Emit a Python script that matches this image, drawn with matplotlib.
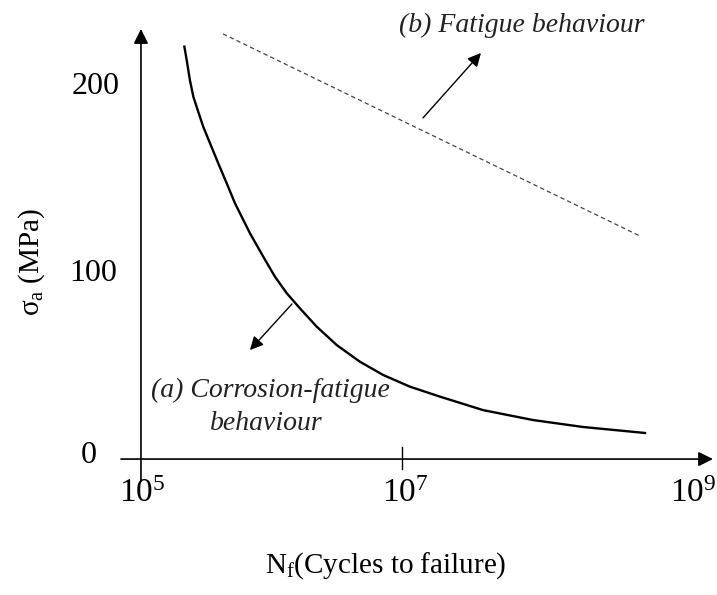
import math
import matplotlib
matplotlib.use("Agg")
import matplotlib.pyplot as plt
from matplotlib.transforms import blended_transform_factory

# S-N sketch: corrosion-fatigue curve vs. fatigue line
# corrosion-fatigue curve (a)
cf_cycles = [2.15e5, 2.24e5, 2.37e5, 2.52e5, 2.72e5, 3.00e5, 3.38e5, 3.91e5,
             4.54e5, 5.25e5, 6.84e5, 8.65e5, 1.064e6, 1.31e6, 1.65e6, 2.22e6,
             3.16e6, 4.76e6, 7.19e6, 1.15e7, 1.95e7, 4.18e7, 1.01e8, 2.44e8, 7.28e8]
cf_stress = [219.9, 212.8, 202.1, 193.2, 186.1, 177.2, 168.4, 157.7,
             147.0, 136.4, 120.4, 107.9, 97.2, 88.4, 80.4, 70.6,
             60.8, 51.9, 44.8, 38.6, 33.3, 26.1, 20.8, 17.1, 13.9]

# fatigue line (b)
fat_cycles = [4.25e5, 6.67e8]
fat_stress = [226.7, 118.9]

y_ticks = [200, 100, 0]
x_ticks = [1e5, 1e7, 1e9]

W, H = 717, 595
plt.rcParams['font.family'] = ['Liberation Serif', 'DejaVu Serif']
plt.rcParams['mathtext.fontset'] = 'custom'
plt.rcParams['mathtext.rm'] = 'Liberation Serif'
plt.rcParams['mathtext.it'] = 'Liberation Serif:italic'


def fx(px):
    return px / W


def fy(py):
    return 1 - py / H


fig = plt.figure(figsize=(W / 100, H / 100), dpi=100)
ax = fig.add_axes([fx(121), fy(481), fx(713) - fx(121), fy(29) - fy(481)])
ax.set_xscale('log')
ax.set_xlim(10 ** 4.847, 10 ** 9.383)
ax.set_ylim(-11.7, 229.3)
ax.axis('off')

arrow = dict(arrowstyle='-|>', color='black', lw=1.2, mutation_scale=22,
             shrinkA=0, shrinkB=0)
# axes drawn as arrows
ax.annotate('', xy=(10 ** 9.383, 0), xytext=(10 ** 4.847, 0), arrowprops=arrow)
ax.annotate('', xy=(1e5, 229.3), xytext=(1e5, -11.7), arrowprops=arrow)
ax.plot([1e7, 1e7], [6.4, -5.3], color='black', lw=1.0)

ax.plot(cf_cycles, cf_stress, color='black', lw=1.7, solid_joinstyle='round')
ax.plot(fat_cycles, fat_stress, color='#444444', lw=0.9, linestyle=(0, (3.5, 2.5)))

thin = dict(arrowstyle='-|>', color='black', lw=1.0, mutation_scale=20,
            shrinkA=0, shrinkB=0)
ax.annotate('', xy=(10 ** 7.605, 216.5), xytext=(10 ** 7.161, 181.9), arrowprops=thin)
ax.annotate('', xy=(10 ** 5.835, 58.1), xytext=(10 ** 6.157, 82.7), arrowprops=thin)

# tick labels (slightly offset like the original sketch)
ytrans = blended_transform_factory(fig.transFigure, ax.transData)
for v, dv, xc in zip(y_ticks, [-1.1, -0.8, 2.1], [96, 93, 89]):
    ax.text(fx(xc), v + dv, str(v), transform=ytrans,
            fontsize=23, ha='center', va='center')
for t, xc in zip(x_ticks, [142, 405, 693]):
    fig.text(fx(xc), fy(494), r'$\mathregular{10^{%d}}$' % round(math.log10(t)),
             fontsize=24, ha='center', va='center')

fig.text(fx(386), fy(566), r'$\mathregular{N_f}$(Cycles to failure)', fontsize=21,
         ha='center', va='center')
fig.text(fx(32), fy(262), r'$\mathregular{\sigma_a}$ (MPa)', fontsize=21, rotation=90,
         ha='center', va='center')

fig.text(fx(522), fy(25), '(b) Fatigue behaviour', fontsize=20, style='italic',
         ha='center', va='center', color='#222222')
fig.text(fx(270), fy(390), '(a) Corrosion-fatigue', fontsize=20, style='italic',
         ha='center', va='center', color='#222222')
fig.text(fx(266), fy(423), 'behaviour', fontsize=20, style='italic',
         ha='center', va='center', color='#222222')

fig.savefig('out.png', dpi=100)
